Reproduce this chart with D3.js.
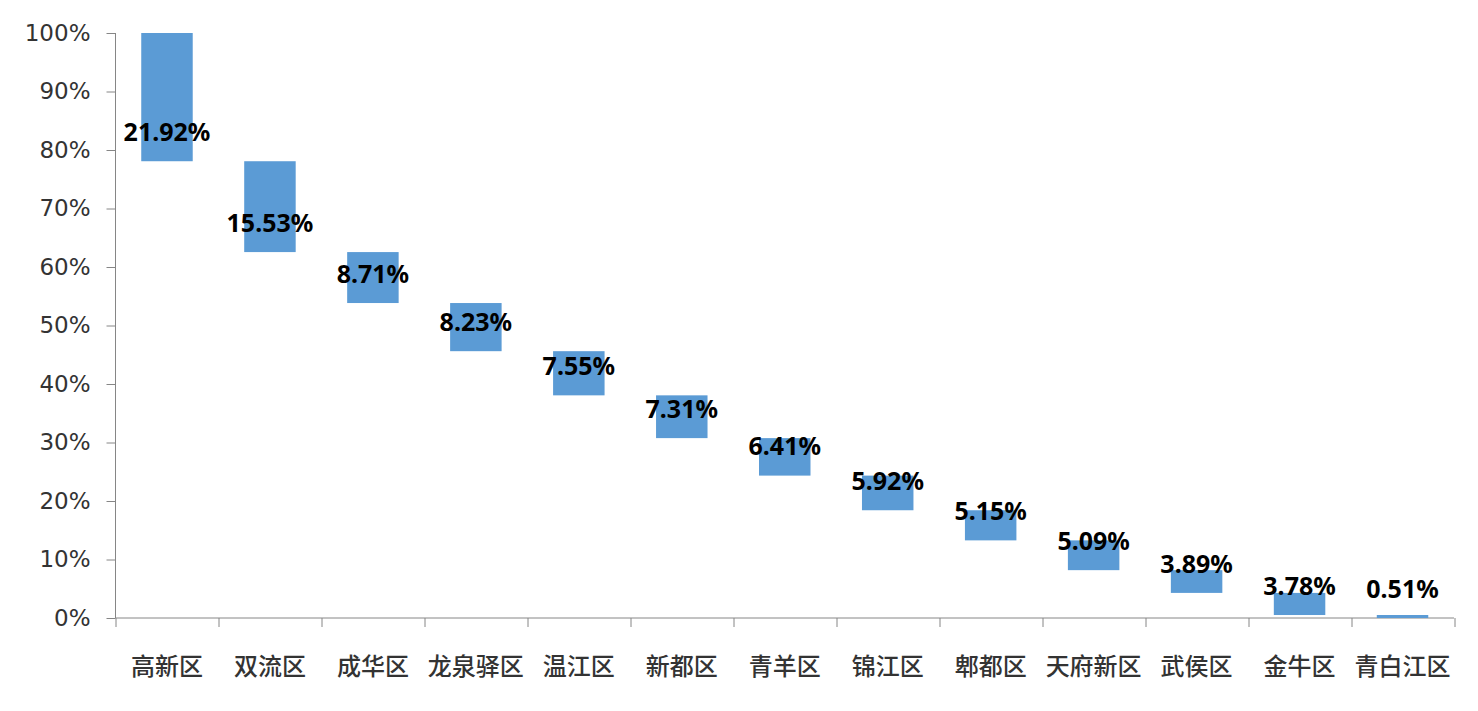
<!DOCTYPE html>
<html>
<head>
<meta charset="utf-8">
<script src="https://cdn.jsdelivr.net/npm/d3@7"></script>
<style>
  body { margin: 0; background: #fff; }
</style>
</head>
<body>
<div id="chart"></div>
<script>
// Data
var districts = ["高新区", "双流区", "成华区", "龙泉驿区", "温江区", "新都区", "青羊区",
                 "锦江区", "郫都区", "天府新区", "武侯区", "金牛区", "青白江区"];
var shares = [21.92, 15.53, 8.71, 8.23, 7.55, 7.31, 6.41, 5.92, 5.15, 5.09, 3.89, 3.78, 0.51];
var yTicks = [0, 10, 20, 30, 40, 50, 60, 70, 80, 90, 100];

// Canvas
var svgWidth = 1478, svgHeight = 711;
var margin = {left: 115.5, right: 24, top: 33, bottom: 93};
var w = svgWidth - margin.left - margin.right,
    h = svgHeight - margin.top - margin.bottom;

var svg = d3.select("#chart").append("svg")
  .attr("width", svgWidth)
  .attr("height", svgHeight);

var g = svg.append("g")
  .attr("transform", `translate(${margin.left}, ${margin.top})`);

// waterfall: each bar hangs below the previous one
var rows = [];
var level = 100;
districts.forEach(function(d, i) {
  rows.push({name: d, value: shares[i], hi: level, lo: level - shares[i]});
  level -= shares[i];
});

// Scales
var x = d3.scaleBand().domain(districts).range([0, w]).paddingInner(0.5).paddingOuter(0.25);
var xEdge = d3.scaleLinear().domain([0, districts.length]).range([0, w]);
var y = d3.scaleLinear().domain([0, 100]).range([h, 0]);

var axisColor = "#868686";

// Y axis
var yAxis = d3.axisLeft(y).tickValues(yTicks).tickSize(9).tickFormat(d => d + "%");
var yg = g.append("g").call(yAxis);
yg.select(".domain").attr("stroke", axisColor).attr("d", `M0,${h}V0`);
yg.selectAll(".tick line").attr("stroke", axisColor);
yg.selectAll(".tick text")
  .attr("x", -25)
  .attr("fill", "#333")
  .style("font-family", "'DejaVu Sans', sans-serif")
  .style("font-size", "23px");

// X axis line with ticks at category boundaries
var xg = g.append("g").attr("transform", `translate(0, ${h})`);
xg.append("line")
  .attr("x1", 0).attr("x2", w)
  .attr("stroke", axisColor);
xg.selectAll("line.tk")
  .data(d3.range(districts.length + 1))
  .enter().append("line")
  .attr("class", "tk")
  .attr("x1", d => Math.round(xEdge(d)) + 0.5)
  .attr("x2", d => Math.round(xEdge(d)) + 0.5)
  .attr("y1", 0).attr("y2", 9)
  .attr("stroke", axisColor);
xg.selectAll("text")
  .data(districts)
  .enter().append("text")
  .attr("x", d => x(d) + x.bandwidth() / 2)
  .attr("y", 49)
  .attr("dy", "0.35em")
  .attr("text-anchor", "middle")
  .attr("fill", "#333")
  .style("font-family", "'Noto Sans CJK SC', sans-serif")
  .style("font-weight", "500")
  .style("font-size", "24px")
  .text(d => d);

// Bars
g.selectAll("rect.bar")
  .data(rows)
  .enter().append("rect")
  .attr("class", "bar")
  .attr("x", d => x(d.name))
  .attr("width", x.bandwidth())
  .attr("y", d => y(d.hi))
  .attr("height", d => y(d.lo) - y(d.hi))
  .attr("fill", "#5B9BD5");

// Value labels
g.selectAll("text.lbl")
  .data(rows)
  .enter().append("text")
  .attr("class", "lbl")
  .attr("x", d => x(d.name) + x.bandwidth() / 2)
  .attr("y", d => y(d.lo) - 29)
  .attr("dy", "0.35em")
  .attr("text-anchor", "middle")
  .attr("fill", "#000")
  .style("font-family", "'Noto Sans', sans-serif")
  .style("font-weight", "bold")
  .style("font-size", "25px")
  .text(d => d.value.toFixed(2) + "%");
</script>
</body>
</html>
